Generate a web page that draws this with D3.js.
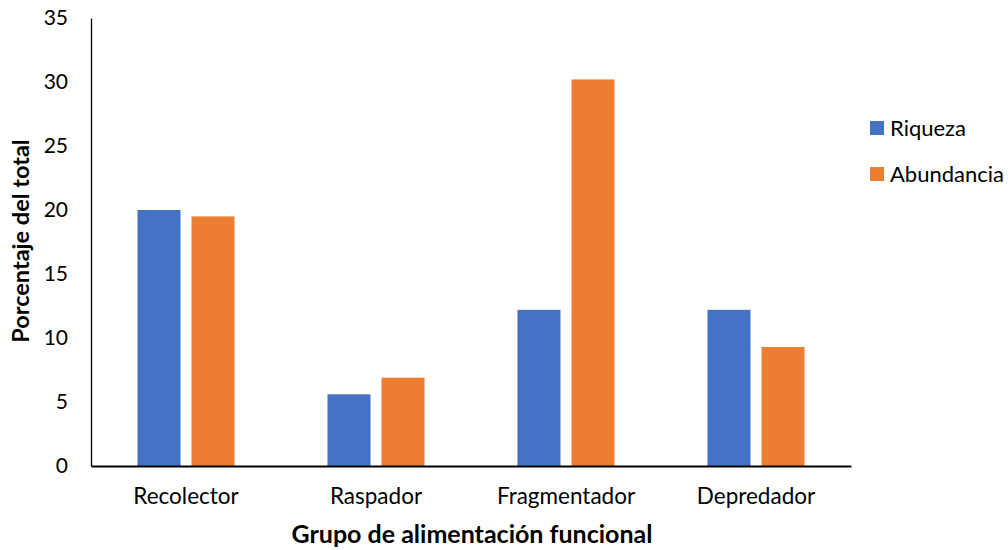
<!DOCTYPE html>
<html>
<head>
<meta charset="utf-8">
<script src="https://cdn.jsdelivr.net/npm/d3@7"></script>
<style>
  body { margin: 0; background: #fff; }
  svg { display: block; font-family: Lato, "Open Sans", sans-serif; }
</style>
</head>
<body>
<div id="chart"></div>
<script>
// Data
const categories = ['Recolector', 'Raspador', 'Fragmentador', 'Depredador'];
const seriesNames = ['Riqueza', 'Abundancia'];
const riqueza = [20.0, 5.6, 12.2, 12.2];
const abundancia = [19.5, 6.9, 30.2, 9.3];
const yTicks = [0, 5, 10, 15, 20, 25, 30, 35];

const colors = ['#4472C4', '#ED7D31'];

const width = 1008;
const height = 550;
const margin = { top: 18, right: 157, bottom: 84, left: 91 };

const rows = categories.map((c, i) => ({ category: c, values: [riqueza[i], abundancia[i]] }));

const svg = d3.select('#chart')
    .append('svg')
    .attr('width', width)
    .attr('height', height);

// Scales
const x0 = d3.scaleBand()
    .domain(categories)
    .range([margin.left, width - margin.right])
    .padding(0);

const x1 = d3.scaleBand()
    .domain(seriesNames)
    .range([0, x0.bandwidth()])
    .paddingInner(0.204)
    .paddingOuter(0.861);

const yScale = d3.scaleLinear()
    .domain([0, 35])
    .range([height - margin.bottom, margin.top]);

// Bars
const groups = svg.append('g')
    .selectAll('g')
    .data(rows)
    .enter().append('g')
    .attr('transform', d => `translate(${x0(d.category)},0)`);

groups.selectAll('rect')
    .data(d => d.values.map((v, i) => ({ key: seriesNames[i], value: v, idx: i })))
    .enter().append('rect')
    .attr('x', d => x1(d.key))
    .attr('y', d => yScale(d.value))
    .attr('width', x1.bandwidth())
    .attr('height', d => yScale(0) - yScale(d.value))
    .attr('fill', d => colors[d.idx]);

// Y axis
const yAxis = svg.append('g')
    .attr('transform', `translate(${margin.left},0)`)
    .call(d3.axisLeft(yScale).tickValues(yTicks).tickSize(0).tickPadding(23));
yAxis.select('.domain').attr('stroke', '#000').attr('stroke-width', 1.3);
yAxis.selectAll('text')
    .attr('font-family', 'Lato, sans-serif')
    .attr('font-size', 21)
    .attr('fill', '#000');

// X axis
const xAxis = svg.append('g')
    .attr('transform', `translate(0,${height - margin.bottom})`)
    .call(d3.axisBottom(x0).tickSize(0).tickPadding(22));
xAxis.select('.domain').attr('stroke', '#000').attr('stroke-width', 2);
xAxis.selectAll('text')
    .attr('font-family', 'Lato, sans-serif')
    .attr('font-size', 22.5)
    .attr('fill', '#000');

// Axis titles
svg.append('text')
    .attr('x', 472)
    .attr('y', 543)
    .attr('text-anchor', 'middle')
    .attr('font-size', 25)
    .attr('font-weight', 'bold')
    .text('Grupo de alimentación funcional');

svg.append('text')
    .attr('transform', 'rotate(-90)')
    .attr('x', -241)
    .attr('y', 29)
    .attr('text-anchor', 'middle')
    .attr('font-size', 23.5)
    .attr('font-weight', 'bold')
    .text('Porcentaje del total');

// Legend
const legend = svg.append('g')
    .selectAll('g')
    .data(seriesNames)
    .enter().append('g')
    .attr('transform', (d, i) => `translate(870,${121 + i * 46})`);

legend.append('rect')
    .attr('width', 14)
    .attr('height', 14)
    .attr('fill', (d, i) => colors[i]);

legend.append('text')
    .attr('x', 20)
    .attr('y', 15)
    .attr('font-size', 22)
    .text(d => d);
</script>
</body>
</html>
